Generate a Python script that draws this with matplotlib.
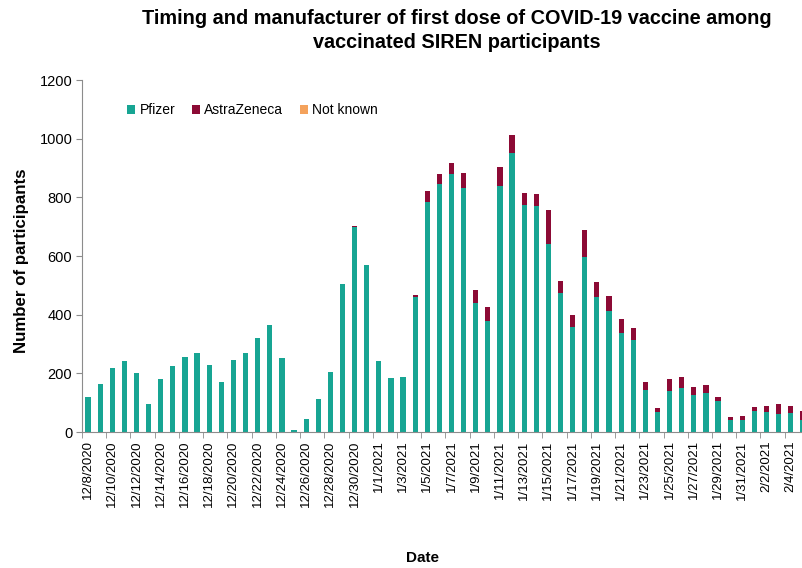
import numpy as np
import pandas as pd
import matplotlib
matplotlib.use('Agg')
from matplotlib import pyplot as plt
from matplotlib.ticker import FixedLocator

plt.rcParams['font.family'] = ['Liberation Sans', 'DejaVu Sans']

# daily first doses, 12/8/2020 .. 2/5/2021
dates = pd.date_range('2020-12-08', '2021-02-05', freq='D')
pfizer = [120, 165, 217, 242, 201, 97, 180, 225, 256, 268,
          230, 171, 245, 268, 319, 365, 253, 8, 43, 112,
          206, 504, 699, 569, 243, 185, 187, 459, 785, 846,
          881, 831, 439, 378, 840, 952, 773, 769, 640, 473,
          359, 598, 459, 413, 339, 312, 143, 68, 139, 151,
          127, 134, 106, 42, 42, 73, 67, 63, 65, 40]
astrazeneca = [0, 0, 0, 0, 0, 0, 0, 0, 0, 0,
               0, 0, 0, 0, 0, 0, 0, 0, 0, 0,
               0, 0, 3, 0, 0, 0, 0, 7, 35, 34,
               35, 52, 44, 48, 63, 60, 42, 42, 118, 43,
               40, 92, 52, 52, 46, 41, 26, 15, 40, 36,
               25, 26, 15, 10, 13, 11, 23, 34, 23, 31]
not_known = [0] * 60

labels = [d.strftime('%-m/%-d/%Y') for d in dates]

c_pf = '#17a593'
c_az = '#8c0a35'
c_nk = '#f4a25c'

fig = plt.figure(figsize=(8.02, 5.68), dpi=100)
ax = fig.add_axes([82 / 802, 136 / 568, 720 / 802, 352 / 568])

x = np.arange(len(dates))
w = 0.43
ax.bar(x, pfizer, w, color=c_pf, label='Pfizer')
ax.bar(x, astrazeneca, w, bottom=pfizer, color=c_az, label='AstraZeneca')
ax.bar(x, not_known, w, bottom=np.array(pfizer) + np.array(astrazeneca), color=c_nk, label='Not known')

ax.set_xlim(-0.5, 58.93)
ax.set_ylim(0, 1200)
ax.set_yticks(range(0, 1201, 200))

# labels under every other bar, tick marks on the category boundaries
ax.set_xticks(x[::2])
ax.set_xticklabels(labels[::2], rotation=90, fontsize=9.5)
ax.tick_params(axis='x', length=0, pad=6)
ax.xaxis.set_minor_locator(FixedLocator(x[::2] - 0.5))
ax.tick_params(axis='x', which='minor', length=4, color='#8c8c8c')
ax.tick_params(axis='y', length=4, color='#8c8c8c', labelsize=10.5, pad=3)

for s in ['top', 'right']:
    ax.spines[s].set_visible(False)
for s in ['left', 'bottom']:
    ax.spines[s].set_color('#8c8c8c')

ax.legend(loc='upper left', bbox_to_anchor=(0.045, 0.97), ncol=3, frameon=False,
          fontsize=10, handlelength=0.6, handleheight=0.6, handletextpad=0.3, columnspacing=1.2)

fig.text(457 / 802, 1 - 18 / 568, 'Timing and manufacturer of first dose of COVID-19 vaccine among',
         ha='center', va='center', fontsize=14.3, fontweight='bold')
fig.text(457 / 802, 1 - 42 / 568, 'vaccinated SIREN participants',
         ha='center', va='center', fontsize=14.3, fontweight='bold')
fig.text(21.5 / 802, 1 - 261 / 568, 'Number of participants', rotation=90,
         ha='center', va='center', fontsize=12.2, fontweight='bold')
fig.text(423 / 802, 1 - 558 / 568, 'Date', ha='center', va='center', fontsize=11, fontweight='bold')

fig.savefig('out.png', dpi=100)
